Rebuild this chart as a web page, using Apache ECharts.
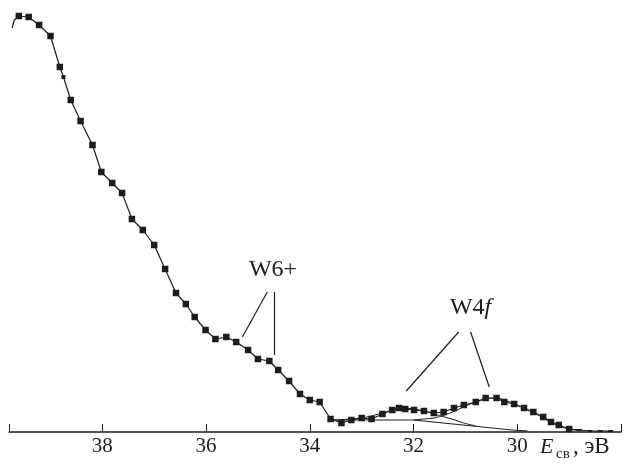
<!DOCTYPE html>
<html><head><meta charset="utf-8">
<script src="https://cdn.jsdelivr.net/npm/echarts@6/dist/echarts.min.js"></script>
<style>html,body{margin:0;padding:0;background:#fff}#c{width:624px;height:464px}</style>
</head><body><div id="c"></div>
<script>
// Binding energy (eV) and intensity (arb. units) of the measured spectrum
const energy = [39.74,39.70,39.61,39.42,39.22,39.00,38.82,38.75,38.61,38.42,38.19,38.02,37.81,37.62,37.43,37.22,37.00,36.79,36.58,36.39,36.22,36.01,35.82,35.61,35.42,35.19,35.00,34.78,34.61,34.40,34.19,34.00,33.81,33.60,33.39,33.20,33.00,32.81,32.60,32.41,32.28,32.16,31.99,31.80,31.61,31.42,31.22,31.03,30.80,30.61,30.40,30.25,30.06,29.87,29.69,29.50,29.35,29.20,29.00,28.80,28.60,28.40,28.20];
const intensity = [404,412,416,415,407,396,365,355,332,311,287,260,249,239,213,202,187,163,139,128,115,102,93,95,90,82,73,71,62,51,38,32,30,13,9,12,14,13,18,22,24,23,22,21,19,20,24,27,30,34,34,30,28,24,20,15,10,7,3,2,1,1,1];
// Background
const bgE = [33.60,32.00,30.10,29.80];
const bgI = [12,12,2,1];
// Component 1 (W4f, ~32.2 eV)
const c1E = [33.60,33.20,32.90,32.60,32.40,32.20,32.00,31.80,31.60,31.40,31.20,31.03,30.80];
const c1I = [12,13,15,19,22,24,23,21,18,15,12,9,6];
// Component 2 (W4f, ~30.5 eV)
const c2E = [32.00,31.80,31.60,31.40,31.20,31.00,30.80,30.60,30.40,30.20,30.00,29.80,29.60,29.40,29.20,29.00,28.80];
const c2I = [12,13,14,17,21,26,30,33,34,31,27,22,17,11,6,3,1];
const tickLabels = [38,36,34,32,30];

const pairs = (xs, ys) => xs.map((x, i) => [x, ys[i]]);
const ink = '#1e1c1c';
const serif = '"Liberation Serif", "DejaVu Serif", serif';

const dataItems = energy.map((e, i) => {
  const item = { value: [e, intensity[i]] };
  if (i < 2) item.symbol = 'none';
  else if (e < 28.9) item.symbolSize = [5, 2];
  else if (i === 7) item.symbolSize = 4;
  return item;
});

const compStyle = { color: ink, width: 1 };
const chart = echarts.init(document.getElementById('c'), null, { renderer: 'canvas' });
chart.setOption({
  animation: false,
  backgroundColor: '#fff',
  grid: { left: 9, top: 12, width: 617, bottom: 32 },
  xAxis: {
    type: 'value', inverse: true, min: 28, max: 39.8, interval: 2,
    axisLine: { lineStyle: { color: ink, width: 1.5 } },
    axisTick: { inside: true, length: 8, lineStyle: { color: ink, width: 1 } },
    splitLine: { show: false },
    axisLabel: {
      color: ink, fontFamily: serif, fontSize: 21, margin: 4,
      formatter: v => tickLabels.includes(v) ? String(v) : ''
    }
  },
  yAxis: { type: 'value', min: 0, max: 420, show: false },
  series: [
    {
      type: 'line', data: dataItems, symbol: 'rect', symbolSize: 6.5,
      itemStyle: { color: ink }, lineStyle: { color: ink, width: 1.2 }, z: 5,
      markLine: {
        silent: true, symbol: 'none', label: { show: false },
        lineStyle: { color: ink, width: 1.2, type: 'solid' },
        data: [
          [{ coord: [34.82, 140] }, { coord: [35.30, 95] }],
          [{ coord: [34.69, 140] }, { coord: [34.69, 77] }],
          [{ coord: [31.13, 100] }, { coord: [32.14, 41] }],
          [{ coord: [30.90, 100] }, { coord: [30.54, 45] }]
        ]
      }
    },
    { type: 'line', data: pairs(bgE, bgI), symbol: 'none', lineStyle: compStyle },
    { type: 'line', data: pairs(c1E, c1I), symbol: 'none', smooth: 0.3, lineStyle: compStyle },
    { type: 'line', data: pairs(c2E, c2I), symbol: 'none', smooth: 0.3, lineStyle: compStyle }
  ]
});

const p6 = chart.convertToPixel({ gridIndex: 0 }, [34.71, 162]);
const p4 = chart.convertToPixel({ gridIndex: 0 }, [30.90, 124]);
chart.setOption({
  graphic: [
    { type: 'text', x: p6[0], y: p6[1], style: { text: 'W6+', font: '24px ' + serif, fill: ink, align: 'center', verticalAlign: 'middle' } },
    { type: 'text', x: p4[0], y: p4[1], style: {
        text: '{n|W4}{i|f}', align: 'center', verticalAlign: 'middle', fill: ink,
        rich: { n: { fontFamily: serif, fontSize: 24, fill: ink }, i: { fontFamily: serif, fontSize: 24, fontStyle: 'italic', fill: ink } }
    } },
    { type: 'text', x: 540, y: 458, style: { text: 'E', font: 'italic 22px ' + serif, fill: ink, verticalAlign: 'bottom' } },
    { type: 'text', x: 556, y: 462, style: { text: 'св', font: '15px ' + serif, fill: ink, verticalAlign: 'bottom' } },
    { type: 'text', x: 573, y: 458, style: { text: ', эВ', font: '23px ' + serif, fill: ink, verticalAlign: 'bottom' } }
  ]
});
</script>
</body></html>
